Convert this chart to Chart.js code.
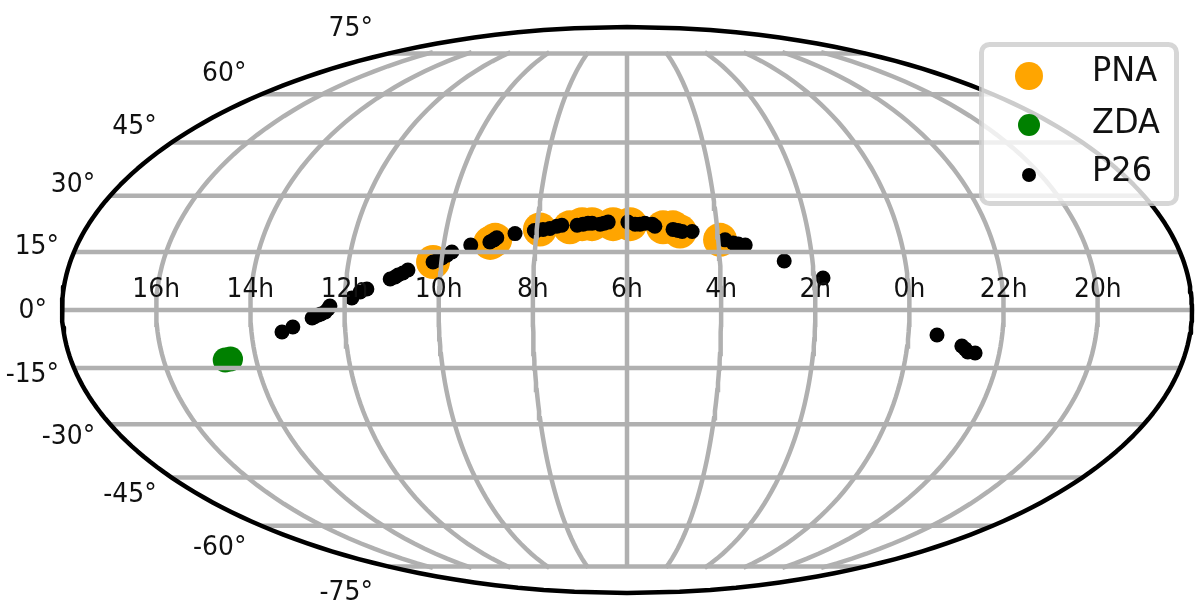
<!DOCTYPE html>
<html><head><meta charset="utf-8">
<style>html,body{margin:0;padding:0;background:#fff;overflow:hidden}canvas{display:block}</style>
<script src="https://cdn.jsdelivr.net/npm/chart.js@4/dist/chart.umd.min.js"></script>
</head><body>
<canvas id="c" width="1200" height="605"></canvas>
<script>
// Right ascension in hours, declination in degrees
const pnaRA  = [10.18,8.99,8.89,7.93,7.27,7.00,6.78,6.31,5.93,5.20,4.98,4.83,3.96];
const pnaDec = [12.41,17.4,18.2,20.95,21.5,22.35,22.35,22.35,22.35,21.5,21.5,20.4,18.2];
const zdaRA  = [14.67,14.55];
const zdaDec = [-12.93,-12.67];
const p26RA  = [13.35,13.11,12.69,12.63,12.56,12.50,12.41,12.35,12.31,11.85,11.68,11.54,11.06,10.96,10.90,10.80,10.70,10.18,10.08,10.00,9.90,9.80,9.41,9.00,8.92,8.86,8.47,8.05,8.03,7.86,7.71,7.56,7.45,7.11,6.98,6.87,6.78,6.60,6.51,6.42,5.98,5.82,5.71,5.60,5.44,5.38,4.98,4.87,4.78,4.56,3.85,3.68,3.57,3.42,2.61,1.81,23.39,22.83,22.75,22.68,22.52];
const p26Dec = [-5.68,-4.39,-2.06,-1.68,-1.29,-1.03,-0.52,0.26,1.03,3.10,4.65,5.42,8.0,8.52,9.04,9.55,10.33,12.41,12.93,13.45,14.2,15.0,16.85,17.65,18.2,18.75,19.85,20.65,20.4,20.95,21.2,21.8,22.05,22.05,22.35,22.6,22.6,22.35,22.6,22.9,22.9,22.35,22.35,22.6,22.35,21.8,20.95,20.65,20.4,20.4,18.2,17.4,17.1,16.85,12.67,8.26,-6.45,-9.3,-10.05,-10.85,-11.1];
const raTickHours = [16,14,12,10,8,6,4,2,0,22,20];
const decTicks = [-75,-60,-45,-30,-15,0,15,30,45,60,75];
const seriesNames = ['PNA','ZDA','P26'];
const seriesColors = ['#ffa500','#008000','#000000'];

const D = Math.PI/180;
function theta(lat){
  const phi = lat*D;
  if (Math.abs(lat) >= 90) return Math.sign(lat)*Math.PI/2;
  let t = phi;
  for (let i=0;i<60;i++){
    t -= (2*t+Math.sin(2*t)-Math.PI*Math.sin(phi))/(2+2*Math.cos(2*t));
  }
  return t;
}
function moll(lon,lat){
  const t = theta(lat);
  return {x:2*Math.SQRT2/Math.PI*lon*D*Math.cos(t), y:Math.SQRT2*Math.sin(t)};
}
function raToLon(h){ return -((((h-6+12)%24)+24)%24-12)*15; }
const pts = (ra,dec)=>ra.map((h,i)=>moll(raToLon(h),dec[i]));
const range = (a,b,n)=>Array.from({length:n+1},(_,i)=>a+(b-a)*i/n);

const gridStyle = {showLine:true,pointRadius:0,borderColor:'#b0b0b0',borderWidth:4.5,fill:false,clip:false,order:3,tension:0};
const datasets = [
  {label:seriesNames[0],data:pts(pnaRA,pnaDec),backgroundColor:seriesColors[0],pointRadius:17,pointBorderWidth:0,order:7,clip:false},
  {label:seriesNames[1],data:pts(zdaRA,zdaDec),backgroundColor:seriesColors[1],pointRadius:12.5,pointBorderWidth:0,order:6,clip:false},
  {label:seriesNames[2],data:pts(p26RA,p26Dec),backgroundColor:seriesColors[2],pointRadius:7.5,pointBorderWidth:0,order:5,clip:false}
];
decTicks.forEach(lat=>datasets.push({...gridStyle,label:'',data:[moll(-180,lat),moll(180,lat)]}));
raTickHours.forEach(h=>datasets.push({...gridStyle,label:'',data:range(-75.6,75.6,80).map(lat=>moll(raToLon(h),lat))}));
datasets.push({...gridStyle,label:'',borderColor:'#000',borderWidth:4.5,order:2,borderJoinStyle:'round',
  data:range(0,90,60).map(lat=>moll(180,lat)).concat(range(90,-90,120).map(lat=>moll(-180,lat))).concat(range(-90,0,60).map(lat=>moll(180,lat)))});

function stretchedText(ctx,text,px,py,sy){
  ctx.save(); ctx.translate(px,py); ctx.scale(1,sy); ctx.fillText(text,0,0); ctx.restore();
}
const overlay = {
  id:'overlay',
  afterDatasetsDraw(chart){
    const {ctx,scales:{x,y}} = chart;
    ctx.save();
    ctx.fillStyle='#111';
    // RA tick labels, sitting on the equator
    ctx.font='25px "DejaVu Sans"';
    ctx.textAlign='center'; ctx.textBaseline='middle';
    raTickHours.forEach(h=>{
      const p=moll(raToLon(h),0);
      stretchedText(ctx,h+'h',x.getPixelForValue(p.x),y.getPixelForValue(0)-20,1.08);
    });
    // Dec tick labels, at the frame edge with vertical stretch 1.1
    ctx.textAlign='right';
    decTicks.forEach(lat=>{
      const p=moll(-180,lat);
      stretchedText(ctx,lat+'°',x.getPixelForValue(p.x)-15,y.getPixelForValue(p.y*1.1)+1,1.08);
    });
    // Legend
    const L=981.5,T=44.5,W=195,H=159,R=8;
    ctx.beginPath(); ctx.roundRect(L,T,W,H,R);
    ctx.fillStyle='rgba(255,255,255,0.8)'; ctx.fill();
    ctx.lineWidth=5; ctx.strokeStyle='rgba(204,204,204,0.8)'; ctx.stroke();
    const radii=[14,11,7], rowsY=[76,125,175], textY=[72,124,172];
    seriesNames.forEach((n,i)=>{
      ctx.beginPath(); ctx.arc(1029,rowsY[i],radii[i],0,2*Math.PI);
      ctx.fillStyle=seriesColors[i]; ctx.fill();
      ctx.fillStyle='#111'; ctx.font='32px "DejaVu Sans"';
      ctx.textAlign='left'; ctx.textBaseline='middle';
      stretchedText(ctx,n,1092,textY[i],1.08);
    });
    ctx.restore();
  }
};

new Chart(document.getElementById('c'),{
  type:'scatter',
  data:{datasets},
  options:{
    responsive:false,animation:false,devicePixelRatio:1,
    layout:{autoPadding:false,padding:{left:62,right:8,top:27,bottom:12}},
    scales:{
      x:{type:'linear',min:-2*Math.SQRT2,max:2*Math.SQRT2,display:false},
      y:{type:'linear',min:-Math.SQRT2,max:Math.SQRT2,display:false}
    },
    plugins:{legend:{display:false},tooltip:{enabled:false},title:{display:false}}
  },
  plugins:[overlay]
});
</script>
</body></html>
